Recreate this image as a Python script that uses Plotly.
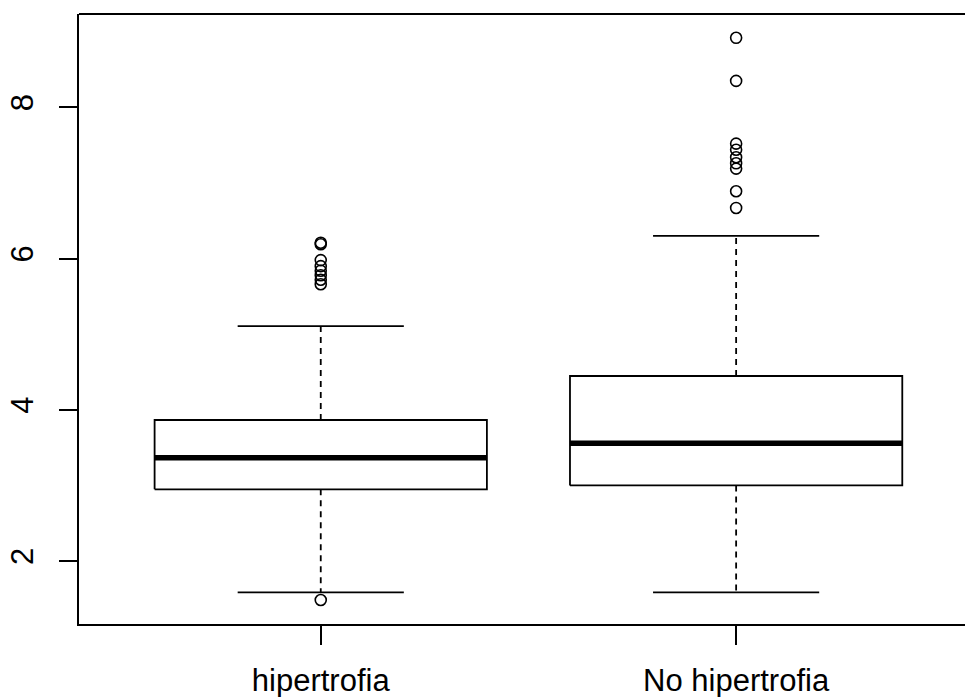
import plotly.graph_objects as go

# Box-plot summary statistics per group
groups = ["hipertrofia", "No hipertrofia"]
lower_whisker = [1.586, 1.586]
q1 = [2.948, 3.000]
median = [3.366, 3.557]
q3 = [3.865, 4.447]
upper_whisker = [5.108, 6.300]
outliers = [
    [1.484, 5.66, 5.72, 5.78, 5.84, 5.90, 5.98, 6.19, 6.21],
    [6.67, 6.89, 7.19, 7.26, 7.34, 7.44, 7.52, 8.35, 8.92],
]

y_ticks = [2, 4, 6, 8]

BLACK = "#000000"
LW = 1.8
BOX_HALF = 0.4
STAPLE_HALF = 0.2

fig = go.Figure()

for i, name in enumerate(groups):
    pos = i + 1
    # box body
    fig.add_trace(go.Scatter(
        x=[pos - BOX_HALF, pos + BOX_HALF, pos + BOX_HALF, pos - BOX_HALF, pos - BOX_HALF],
        y=[q1[i], q1[i], q3[i], q3[i], q1[i]],
        mode="lines", line=dict(color=BLACK, width=LW),
        hoverinfo="skip", showlegend=False,
    ))
    # median (thick)
    fig.add_trace(go.Scatter(
        x=[pos - BOX_HALF, pos + BOX_HALF], y=[median[i], median[i]],
        mode="lines", line=dict(color=BLACK, width=5.5),
        hoverinfo="skip", showlegend=False,
    ))
    # dashed whiskers
    for a, b in ((q3[i], upper_whisker[i]), (q1[i], lower_whisker[i])):
        fig.add_trace(go.Scatter(
            x=[pos, pos], y=[a, b], mode="lines",
            line=dict(color=BLACK, width=LW, dash="6px,5px"),
            hoverinfo="skip", showlegend=False,
        ))
    # staples
    for v in (upper_whisker[i], lower_whisker[i]):
        fig.add_trace(go.Scatter(
            x=[pos - STAPLE_HALF, pos + STAPLE_HALF], y=[v, v], mode="lines",
            line=dict(color=BLACK, width=LW),
            hoverinfo="skip", showlegend=False,
        ))
    # outliers
    fig.add_trace(go.Scatter(
        x=[pos] * len(outliers[i]), y=outliers[i], mode="markers",
        marker=dict(symbol="circle-open", size=11, color=BLACK, line=dict(width=1.6)),
        name=name, showlegend=False,
    ))

# top frame line (plot region continues past the right edge)
fig.add_shape(type="line", xref="paper", yref="paper", x0=0, x1=1, y0=1, y1=1,
              line=dict(color=BLACK, width=LW))

fig.update_layout(
    width=965, height=697,
    margin=dict(l=79, r=0, t=14, b=73),
    paper_bgcolor="white", plot_bgcolor="white",
    font=dict(family="Liberation Sans, Arial, sans-serif", size=31, color=BLACK),
    xaxis=dict(
        range=[0.418, 2.551], tickvals=[1, 2], ticktext=groups,
        showgrid=False, zeroline=False, showline=True, linecolor=BLACK, linewidth=LW,
        ticks="outside", ticklen=19, tickwidth=LW, tickcolor=BLACK,
        ticklabelstandoff=9, automargin=False,
    ),
    yaxis=dict(
        range=[1.167, 9.235], tickvals=y_ticks, ticktext=[str(t) for t in y_ticks],
        tickangle=-90,
        showgrid=False, zeroline=False, showline=True, linecolor=BLACK, linewidth=LW,
        ticks="outside", ticklen=18, tickwidth=LW, tickcolor=BLACK,
        ticklabelstandoff=14, automargin=False,
    ),
)

fig.write_html("out.html")
